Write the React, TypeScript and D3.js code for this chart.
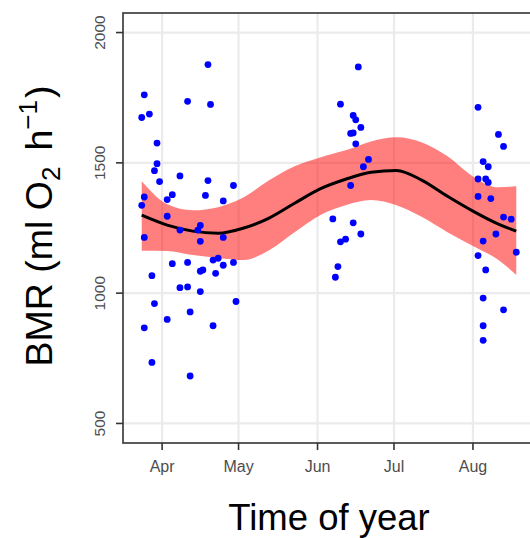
import React from "react";
import * as d3 from "d3";

// ---- data ----
const pointDates: string[] = [
  // late March / April group
  "2015-04-19","2015-03-25","2015-04-11","2015-04-20","2015-03-27","2015-03-24",
  "2015-03-30","2015-03-30","2015-03-29","2015-04-08","2015-03-31","2015-04-19",
  "2015-04-29","2015-04-05","2015-04-03","2015-03-25","2015-04-18","2015-04-25",
  "2015-03-24","2015-04-03","2015-04-08","2015-04-16","2015-04-15","2015-03-25",
  "2015-04-16","2015-04-25","2015-04-05","2015-04-11","2015-04-21","2015-04-23",
  "2015-04-29","2015-04-25","2015-04-16","2015-04-17","2015-04-22","2015-03-28",
  "2015-04-08","2015-04-11","2015-04-16","2015-03-29","2015-04-30","2015-04-12",
  "2015-04-03","2015-03-25","2015-04-21","2015-03-28","2015-04-12",
  // June group
  "2015-06-17","2015-06-10","2015-06-15","2015-06-16","2015-06-18","2015-06-14",
  "2015-06-15","2015-06-16","2015-06-21","2015-06-19","2015-06-14","2015-06-07",
  "2015-06-15","2015-06-18","2015-06-12","2015-06-10","2015-06-09","2015-06-08",
  // August group
  "2015-08-03","2015-08-11","2015-08-13","2015-08-05","2015-08-07","2015-08-03",
  "2015-08-06","2015-08-07","2015-08-03","2015-08-08","2015-08-13","2015-08-16",
  "2015-08-10","2015-08-05","2015-08-03","2015-08-06","2015-08-18","2015-08-05",
  "2015-08-13","2015-08-05","2015-08-05",
];
const pointBMR: number[] = [
  1877,1761,1736,1724,1687,1674,
  1576,1497,1470,1450,1428,1432,
  1413,1378,1359,1369,1375,1354,
  1337,1295,1242,1260,1242,1214,
  1199,1214,1113,1118,1127,1134,
  1118,1107,1084,1089,1076,1067,
  1021,1024,1006,960,968,928,
  899,867,875,734,682,
  1868,1725,1682,1665,1636,1613,
  1615,1573,1513,1485,1413,1285,
  1270,1227,1207,1197,1102,1061,
  1713,1609,1563,1505,1485,1438,
  1438,1425,1371,1363,1292,1284,
  1227,1200,1144,1089,1157,981,
  936,875,819,
];

const fitDates: string[] = [
  "2015-03-24","2015-04-03","2015-04-13","2015-04-23","2015-05-03","2015-05-13",
  "2015-05-23","2015-06-02","2015-06-12","2015-06-22","2015-07-02","2015-07-12",
  "2015-07-22","2015-08-01","2015-08-11","2015-08-18",
];
const fitBMR: number[] = [1299,1261,1238,1230,1250,1288,1345,1400,1437,1464,1471,1433,1372,1315,1265,1238];
const fitUpper: number[] = [1429,1341,1318,1330,1368,1433,1487,1521,1548,1582,1598,1578,1525,1448,1406,1410];
const fitLower: number[] = [1163,1162,1146,1135,1127,1165,1234,1299,1337,1357,1337,1292,1234,1181,1127,1070];

const xTickDates: string[] = ["2015-04-01","2015-05-01","2015-06-01","2015-07-01","2015-08-01"];
const yTicks: number[] = [500, 1000, 1500, 2000];
const yLimits: [number, number] = [500, 2000];

// ---- layout ----
const W = 530, H = 538;
const M = { left: 123, top: 13, right: 535, bottom: 443 };
const FONT = "'Liberation Sans', Arial, Helvetica, sans-serif";

const parse = d3.timeParse("%Y-%m-%d");

export default function App() {
  const pDates = pointDates.map((s) => parse(s) as Date);
  const fDates = fitDates.map((s) => parse(s) as Date);

  const [dMin, dMax] = d3.extent(pDates) as [Date, Date];
  const span = +dMax - +dMin;
  const x = d3
    .scaleTime()
    .domain([new Date(+dMin - span * 0.05), new Date(+dMax + span * 0.05)])
    .range([M.left, M.right]);
  const ySpan = yLimits[1] - yLimits[0];
  const y = d3
    .scaleLinear()
    .domain([yLimits[0] - ySpan * 0.05, yLimits[1] + ySpan * 0.05])
    .range([M.bottom, M.top]);

  const fit = fDates.map((d, i) => ({ d, v: fitBMR[i], lo: fitLower[i], hi: fitUpper[i] }));
  const area = d3
    .area<(typeof fit)[number]>()
    .x((p) => x(p.d))
    .y0((p) => y(p.lo))
    .y1((p) => y(p.hi))
    .curve(d3.curveMonotoneX);
  const line = d3
    .line<(typeof fit)[number]>()
    .x((p) => x(p.d))
    .y((p) => y(p.v))
    .curve(d3.curveMonotoneX);

  const xt = xTickDates.map((s) => parse(s) as Date);
  const fmt = d3.timeFormat("%b");
  const yCenter = (M.top + M.bottom) / 2;
  const xCenter = (M.left + M.right) / 2;

  return (
    <svg
      width={W}
      height={H}
      style={{ position: "absolute", left: 0, top: 0, background: "#fff" }}
      fontFamily={FONT}
    >
      <defs>
        <clipPath id="panel">
          <rect x={M.left} y={M.top} width={M.right - M.left} height={M.bottom - M.top} />
        </clipPath>
      </defs>
      <rect x={M.left} y={M.top} width={M.right - M.left} height={M.bottom - M.top} fill="#fff" />
      <g clipPath="url(#panel)">
        {yTicks.map((t) => (
          <line key={"gy" + t} x1={M.left} x2={M.right} y1={y(t)} y2={y(t)} stroke="#EBEBEB" strokeWidth={2.2} />
        ))}
        {xt.map((t, i) => (
          <line key={"gx" + i} x1={x(t)} x2={x(t)} y1={M.top} y2={M.bottom} stroke="#EBEBEB" strokeWidth={2.2} />
        ))}
        <path d={area(fit) || ""} fill="#FF0000" fillOpacity={0.5} />
        <path d={line(fit) || ""} fill="none" stroke="#000" strokeWidth={3} />
        {pDates.map((d, i) => (
          <circle key={"p" + i} cx={x(d)} cy={y(pointBMR[i])} r={3.4} fill="#0000FF" />
        ))}
      </g>
      <rect
        x={M.left}
        y={M.top}
        width={M.right - M.left}
        height={M.bottom - M.top}
        fill="none"
        stroke="#333"
        strokeWidth={1.6}
      />
      {/* y ticks */}
      {yTicks.map((t) => (
        <g key={"yt" + t}>
          <line x1={M.left - 7} x2={M.left} y1={y(t)} y2={y(t)} stroke="#333" strokeWidth={1.6} />
          <text
            transform={`translate(${105},${y(t)}) rotate(-90)`}
            textAnchor="middle"
            fontSize={15.5}
            fill="#4D4D4D"
          >
            {t}
          </text>
        </g>
      ))}
      {/* x ticks */}
      {xt.map((t, i) => (
        <g key={"xt" + i}>
          <line x1={x(t)} x2={x(t)} y1={M.bottom} y2={M.bottom + 7} stroke="#333" strokeWidth={1.6} />
          <text x={x(t)} y={472} textAnchor="middle" fontSize={16} fill="#4D4D4D">
            {fmt(t)}
          </text>
        </g>
      ))}
      {/* axis titles */}
      <text x={xCenter} y={530} textAnchor="middle" fontSize={36.5} fill="#000">
        Time of year
      </text>
      <text
        transform={`translate(${52},${yCenter - 2}) rotate(-90)`}
        textAnchor="middle"
        fontSize={37.5}
        fill="#000"
      >
        BMR (ml O
        <tspan fontSize={26} dy={8}>2</tspan>
        <tspan dy={-8} dx={16}>h</tspan>
        <tspan fontSize={26} dy={-15}>{"\u22121"}</tspan>
        <tspan dy={15} dx={2}>)</tspan>
      </text>
    </svg>
  );
}
